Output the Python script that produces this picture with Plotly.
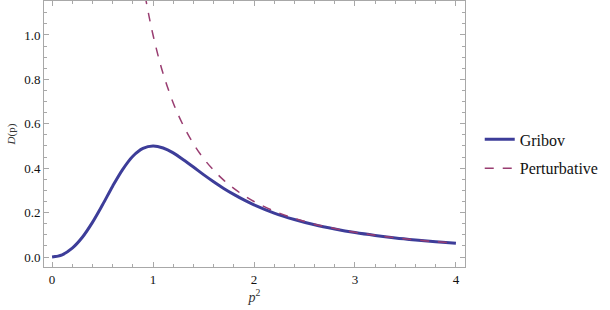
import plotly.graph_objects as go

# Values
gribov_x = [0, 0.1, 0.2, 0.3, 0.4, 0.5, 0.6, 0.7, 0.8, 0.9, 1.0, 1.1, 1.2, 1.3, 1.4, 1.5,
            1.6, 1.7, 1.8, 1.9, 2.0, 2.2, 2.4, 2.6, 2.8, 3.0, 3.2, 3.4, 3.6, 3.8, 4.0]
gribov_y = [0.0, 0.010, 0.040, 0.089, 0.156, 0.235, 0.319, 0.395, 0.454, 0.489, 0.500, 0.491,
            0.469, 0.438, 0.405, 0.371, 0.339, 0.309, 0.282, 0.257, 0.235, 0.198, 0.169,
            0.145, 0.126, 0.110, 0.097, 0.086, 0.077, 0.069, 0.062]

pert_x = [0.92, 0.96, 1.0, 1.05, 1.1, 1.2, 1.3, 1.4, 1.5, 1.6, 1.7, 1.8, 1.9, 2.0, 2.2, 2.4,
          2.6, 2.8, 3.0, 3.2, 3.4, 3.6, 3.8, 4.0]
pert_y = [1.181, 1.085, 1.000, 0.907, 0.826, 0.694, 0.592, 0.510, 0.444, 0.391, 0.346, 0.309,
          0.277, 0.250, 0.207, 0.174, 0.148, 0.128, 0.111, 0.098, 0.087, 0.077, 0.069, 0.0625]

x_ticks = [0, 1, 2, 3, 4]
y_ticks = [0.0, 0.2, 0.4, 0.6, 0.8, 1.0]
y_tick_text = ["0.0", "0.2", "0.4", "0.6", "0.8", "1.0"]

fig = go.Figure()
fig.add_trace(go.Scatter(x=gribov_x, y=gribov_y, mode="lines", name="Gribov", legendgroup="g",
                         line=dict(color="#3D3D99", width=3, shape="spline")))
fig.add_trace(go.Scatter(x=pert_x, y=pert_y, mode="lines", name="Perturbative", legendgroup="p",
                         line=dict(color="#993D71", width=1.5, dash="dash", shape="spline")))

font = "Times New Roman"
gray = "#a8a8a8"
axis_common = dict(showline=True, linecolor=gray, linewidth=1, mirror="allticks",
                   ticks="inside", tickcolor=gray, ticklen=5, showgrid=False,
                   zeroline=False, tickfont=dict(family=font, size=13, color="#111"))

fig.update_xaxes(range=[-0.08, 4.09], tickvals=x_ticks, ticktext=[str(v) for v in x_ticks],
                 minor=dict(dtick=0.2, ticks="inside", ticklen=3, tickcolor=gray),
                 title=dict(text="<i>p</i><sup>2</sup>", font=dict(family=font, size=14, color="#333"),
                            standoff=6),
                 **axis_common)
fig.update_yaxes(range=[-0.045, 1.153], tickvals=y_ticks, ticktext=y_tick_text,
                 minor=dict(dtick=0.05, ticks="inside", ticklen=3, tickcolor=gray),
                 title=dict(text="<i>D</i>(p)", font=dict(family=font, size=11, color="#333"),
                            standoff=6),
                 **axis_common)

fig.update_layout(
    width=610, height=310,
    font=dict(family=font),
    margin=dict(l=44, r=145, t=1, b=43, autoexpand=False),
    paper_bgcolor="white", plot_bgcolor="white",
    legend=dict(x=1.035, y=0.425, xanchor="left", yanchor="middle",
                font=dict(family=font, size=16, color="#111"),
                bgcolor="rgba(0,0,0,0)", tracegroupgap=5),
)

fig.write_html("out.html", config={"displayModeBar": False},
               post_script="document.body.style.margin='0';document.body.style.overflow='hidden';")
